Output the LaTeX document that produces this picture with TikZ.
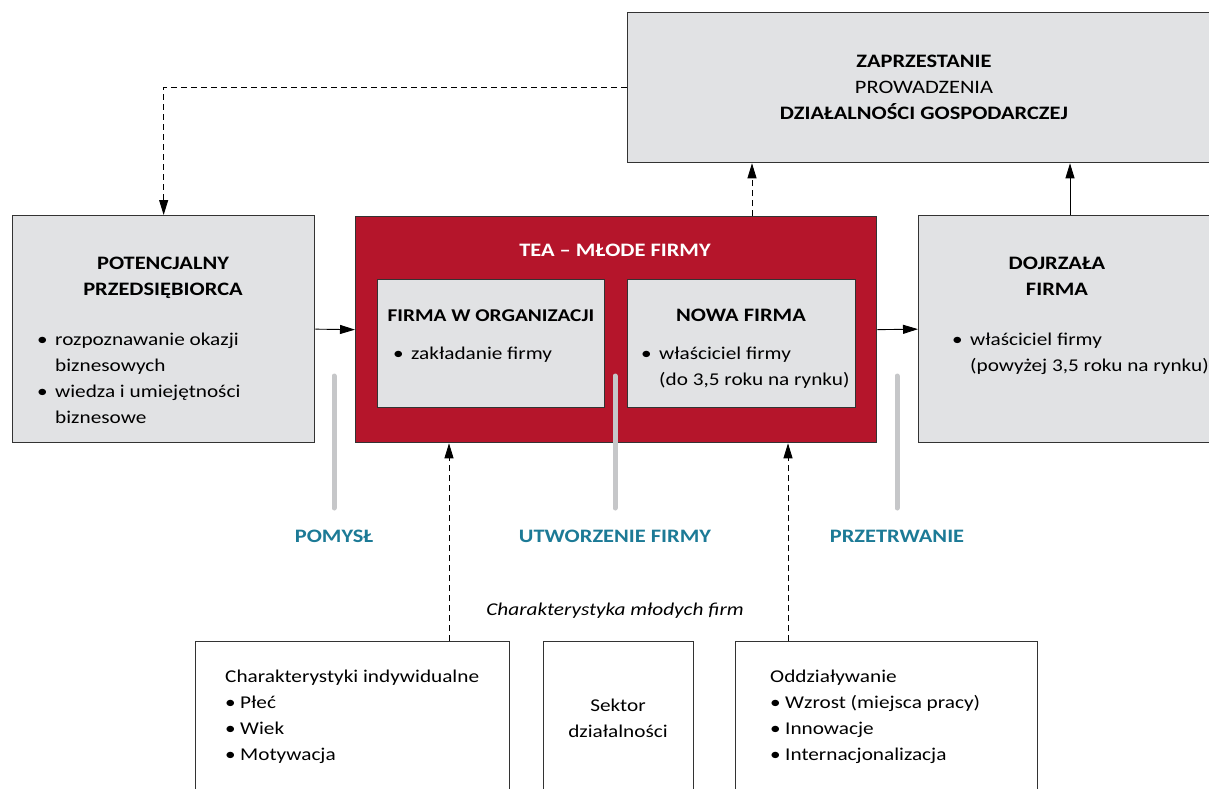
\documentclass[tikz,border=0pt]{standalone}
\usepackage{fontspec}
\setmainfont{Carlito}[FakeStretch=1.18]
\usetikzlibrary{arrows.meta}
\definecolor{boxc}{HTML}{E1E2E4}
\definecolor{teac}{HTML}{B5152B}
\definecolor{barc}{HTML}{C6C7C9}
\definecolor{stagec}{HTML}{1C7A96}
\definecolor{edgec}{HTML}{333333}
\newcommand\txt{\fontsize{18}{26}\selectfont}
\newcommand\ttl{\fontsize{19}{26}\selectfont}
\newcommand\bul{\makebox[18pt][l]{•}}
\newcommand\ibul{\makebox[15pt][l]{•}}

\begin{document}
\begin{tikzpicture}[x=1pt, y=-1pt,
  box/.style={draw=edgec, line width=1.3pt, fill=boxc, anchor=north west, inner sep=0pt},
  wbox/.style={box, fill=white},
  title/.style={font=\ttl\bfseries, align=center, anchor=base},
  item/.style={font=\txt, align=left, anchor=base west, inner sep=0pt},
  stage/.style={font=\ttl\bfseries, text=stagec, anchor=base},
  bar/.style={barc, line width=5pt, line cap=round},
  arr/.style={-{Triangle[length=15pt, width=9pt]}, line width=0.9pt},
  dasharr/.style={arr, dash pattern=on 6pt off 4pt}]
  \useasboundingbox (0,0) rectangle (1209,789);

  % top box (multi-line texts sit on the baseline of their last line)
  \node[box, minimum width=594pt, minimum height=150pt] (zap) at (627,12) {};
  \node[title] (zapt) at (924,120) {ZAPRZESTANIE\\\mdseries PROWADZENIA\\DZIAŁALNOŚCI GOSPODARCZEJ};

  % middle row
  \node[box, minimum width=302pt, minimum height=227pt] (pot) at (12,215) {};
  \node[title] (pott) at (163,295) {POTENCJALNY\\PRZEDSIĘBIORCA};
  \node[item] (poti) at (37,423) {\bul rozpoznawanie okazji\\\hspace*{18pt}biznesowych\\
    \bul wiedza i umiejętności\\\hspace*{18pt}biznesowe};

  \node[box, fill=teac, minimum width=521pt, minimum height=226pt] (tea) at (355,216) {};
  \node[title, text=white] (teat) at (615,256) {TEA -- MŁODE FIRMY};
  \node[box, minimum width=227pt, minimum height=128pt] (org) at (377,279) {};
  \node[title, font=\txt\bfseries] (orgt) at (491,321) {FIRMA W ORGANIZACJI};
  \node[item] (orgi) at (393,359) {\bul zakładanie firmy};
  \node[box, minimum width=228pt, minimum height=128pt] (nowa) at (627,279) {};
  \node[title] (nowat) at (741,321) {NOWA FIRMA};
  \node[item] (nowai) at (641,385) {\bul właściciel firmy\\\hspace*{18pt}(do 3,5 roku na rynku)};

  \node[box, minimum width=304pt, minimum height=227pt] (dojrz) at (918,215) {};
  \node[title] (dojrzt) at (1057,295) {DOJRZAŁA\\FIRMA};
  \node[item] (dojrzi) at (952,371) {\bul właściciel firmy\\\hspace*{18pt}(powyżej 3,5 roku na rynku)};

  % stages
  \draw[bar] (334,376) -- (334,508);
  \draw[bar] (615,376) -- (615,508);
  \draw[bar] (897,376) -- (897,508);
  \node[stage] (idea) at (334,542) {POMYSŁ};
  \node[stage] (start) at (615,542) {UTWORZENIE FIRMY};
  \node[stage] (surv) at (897,542) {PRZETRWANIE};

  % bottom row
  \node[font=\txt\itshape, anchor=base] (chart) at (615,615) {Charakterystyka młodych firm};
  \node[wbox, minimum width=314pt, minimum height=170pt] (ind) at (195,641) {};
  \node[item] (indi) at (225,760) {Charakterystyki indywidualne\\\ibul Płeć\\\ibul Wiek\\\ibul Motywacja};
  \node[wbox, minimum width=150pt, minimum height=170pt] (sekt) at (543,641) {};
  \node[font=\txt, align=center, anchor=base] (sektt) at (618,737) {Sektor\\działalności};
  \node[wbox, minimum width=302pt, minimum height=170pt] (oddz) at (735,641) {};
  \node[item] (oddzi) at (770,760) {Oddziaływanie\\\ibul Wzrost (miejsca pracy)\\\ibul Innowacje\\\ibul Internacjonalizacja};

  % connectors
  \coordinate (cz) at (752,0);
  \coordinate (cd) at (1070,0);
  \coordinate (ci) at (449,0);
  \coordinate (co) at (788,0);
  \draw[dasharr] (zap.west) -| (pot.north);
  \draw[arr] (pot.east) -- (tea.west);
  \draw[arr] (tea.east) -- (dojrz.west);
  \draw[dasharr] (tea.north -| cz) -- (zap.south -| cz);
  \draw[arr] (dojrz.north -| cd) -- (zap.south -| cd);
  \draw[dasharr] (ind.north -| ci) -- (tea.south -| ci);
  \draw[dasharr] (oddz.north -| co) -- (tea.south -| co);
\end{tikzpicture}
\end{document}
